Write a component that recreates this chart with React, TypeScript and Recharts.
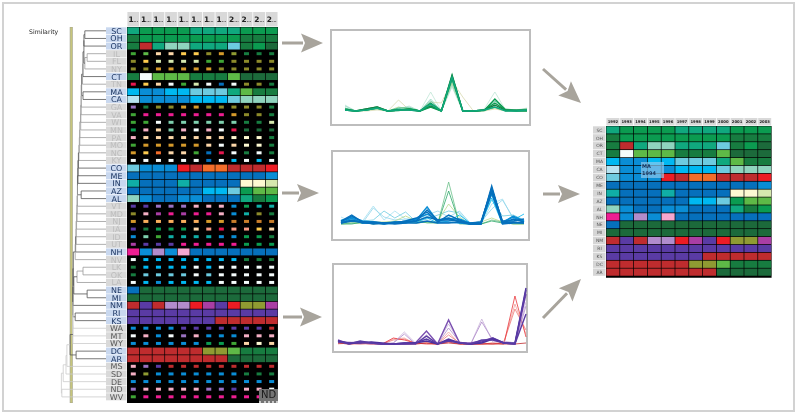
import { ScatterChart, Scatter, LineChart, Line, XAxis, YAxis, ReferenceArea } from "recharts";

// ---------- data ----------
const years = [1992, 1993, 1994, 1995, 1996, 1997, 1998, 1999, 2000, 2001, 2002, 2003];

const states = [
  "SC", "OH", "OR", "IL", "FL", "NY", "CT", "TN", "MA", "CA", "GA", "VA", "WI", "MN", "PA", "MO", "NC",
  "KY", "CO", "ME", "IN", "AZ", "AL", "VT", "MD", "NJ", "IA", "ID", "UT", "NH", "NV", "LK", "OK", "LA",
  "NE", "MI", "NM", "RI", "KS", "WA", "MT", "WY", "DC", "AR", "MS", "SD", "DE", "ND", "WV",
];

// one profile class per year, per state
const stateClasses = [
  "abbbbaaaabbb", "cbbbbbbbbccc", "craffaaaEcbd", "ieppyylgOccc", "lyXXXXiillll", "llggggglllll",
  "cweeeccceddd", "typwiXwBwllc", "DCCDDEEEaecc", "LCCCCDDDEfff", "vcllgglllllc", "iKKKKKKKgllc",
  "iiwmmmmmmccX", "bkpmkwkwtddd", "kpppppppWWWc", "igggggpwpWWc", "gyoppiBtwcwc", "wwwwwwBwDwDw",
  "ECCCRroorrrR", "BBBBBBBBBBBC", "TBBBTBBBBWWX", "BBBBBBDDEbee", "fCBBCCBBBacb", "PPvvvkkkCbTT",
  "lkMKMKKkCTlc", "gzzzzzggxxxx", "Pcbbbpstssyp", "CmiTTTTCCbbc", "MPPPKKKKKbbb", "KCQCHBBBBBBB",
  "wDDDDDDDDccc", "cDDDDwDwwwww", "cEEEEwEwwwww", "wDCDDDDwwwww", "Bddddddddddd", "dddddddddddd",
  "rPrQQRMPROOM", "PPPPPPPPPPPP", "PPPPPPPrrrrr", "CCCCPPPPPPPr", "wkCwvkCCCkkk", "CCCCCCbbipWp",
  "rrrrrrOOeccc", "rrrrrrrrdddd", "kvPrrrrrrrrr", "kOCCCCCCCccc", "CCCCCCCCCCCC", "vkkkkkvvPkkw",
  "iKKKKKKKKKKK",
];

const clusterStates = ["SC", "OH", "OR", "CT", "MA", "CA", "CO", "ME", "IN", "AZ", "AL", "NH", "NE", "MI", "NM", "RI", "KS", "DC", "AR"];
const outlierStates = ["WA", "MT", "WY", "MS", "SD", "DE", "ND", "WV"];

// dendrogram: [child, child, similarity, merged name]
const merges: [string, string, number, string][] = [
  ["SC", "OH", 54, "m1"], ["m1", "OR", 52, "m2"], ["IL", "FL", 59, "m3"], ["m3", "NY", 54, "m4"],
  ["m2", "m4", 52, "m5"], ["m5", "CT", 50, "m6"], ["m6", "TN", 49, "m7"], ["MA", "CA", 50, "m8"],
  ["m7", "m8", 47, "m9"], ["m9", "GA", 46, "m10"], ["m10", "VA", 46, "m11"], ["m11", "WI", 45, "m12"],
  ["m12", "MN", 45, "m13"], ["m13", "PA", 43, "m14"], ["m14", "MO", 43, "m15"], ["m15", "NC", 42, "m16"],
  ["m16", "KY", 41, "m17"], ["m17", "CO", 40, "m18"], ["m18", "ME", 39, "m19"], ["m19", "IN", 39, "m20"],
  ["AZ", "AL", 46, "m21"], ["m20", "m21", 38, "m22"], ["m22", "VT", 38, "m23"], ["m23", "MD", 37, "m24"],
  ["m24", "NJ", 37, "m25"], ["m25", "IA", 36, "m26"], ["m26", "ID", 35, "m27"], ["m27", "UT", 35, "m28"],
  ["m28", "NH", 34, "m29"], ["m29", "NV", 33, "m30"], ["LK", "OK", 50, "m31"], ["m31", "LA", 37, "m32"],
  ["NE", "MI", 59, "m33"], ["m32", "m33", 30, "m34"], ["m30", "m34", 29, "m35"], ["m35", "NM", 28, "m36"],
  ["RI", "KS", 33, "m37"], ["m36", "m37", 28, "m38"], ["m38", "WA", 28, "m39"], ["m39", "MT", 28, "m40"],
  ["m40", "WY", 28, "m41"], ["DC", "AR", 35, "m42"], ["m41", "m42", 22, "m43"], ["m43", "MS", 15, "m44"],
  ["m44", "SD", 13, "m45"], ["m45", "DE", 7, "m46"], ["ND", "WV", 4, "m47"], ["m46", "m47", 3, "m48"],
];

const steps = [0, 1, 2, 3, 4, 5, 6, 7, 8, 9, 10, 11, 12, 13, 14, 15, 16, 17];

const greenProfiles = [
  [6, 0, 1, 2, 0, 2, 5, 0, 19, 0, 24, 0, 0, 2, 19, 1, 1, 3],
  [1, 0, 0, 1, 0, 11, 1, 0, 9, 8, 30, 14, 0, 0, 2, 0, 0, 2],
  [5, 0, 1, 2, 0, 3, 4, 0, 12, 0, 26, 0, 0, 1, 12, 1, 1, 1],
  [1, 0, 1, 2, 0, 4, 2, 0, 7, 1, 28, 0, 0, 0.5, 3, 0, 1, 2],
  [3, 0, 1, 3, 0, 3, 3, 0, 10, 0, 30, 0, 0, 1, 10, 2, 1, 2],
  [1, 0, 1, 3, 0, 2, 1, 0, 6, 0, 32, 0, 0, 0.5, 4, 0.5, 1, 0.5],
  [2, 0, 2, 4, 0, 1, 2, 0, 8, 0, 36, 0, 0, 1, 8, 1, 0.5, 1],
  [1, 0, 2, 4, 0, 1, 1, 0, 5, 0, 35, 0, 0, 1, 6, 0.5, 0.5, 0.5],
  [1, 0, 1, 3, 0, 0.5, 2, 0, 4, 0, 33, 0, 0, 0.5, 12, 1, 0, 0],
  [1, 0, 1, 3, 0, 1, 1, 0, 7, 0, 34, 0, 0, 1, 4, 0, 0, 1],
];
const greenStrokes = ["#bfe6d6", "#d8d9b0", "#8fd4be", "#a9d68a", "#3fb98a", "#10a87e", "#0b9b50", "#177c40", "#0b9b50", "#10a87e"];

const blueProfiles = [
  [7, 2, 3, 18, 4, 13, 5, 3, 8, 4, 7, 2, 1, 0, 20, 25, 5, 3],
  [1, 3, 1, 16, 7, 4, 5, 5, 9, 13, 7, 13, 1, 2, 15, 24, 6, 2],
  [2, 1, 3, 4, 13, 6, 12, 2, 5, 9, 13, 11, 0, 3, 24, 8, 9, 4],
  [1, 1, 1, 2, 2, 3, 8, 3, 2, 3, 20, 7, 0, 2, 6, 2, 0, 0],
  [0, 1, 1, 1, 0, 2, 1, 4, 1, 1, 42, 0, 0, 0, 4, 2, 0, 0],
  [0, 0, 2, 0, 1, 1, 2, 1, 2, 1, 33, 1, 0, 0, 3, 1, 1, 1],
  [4, 5, 1, 1, 1, 1, 2, 2, 6, 1, 3, 9, 1, 0, 26, 0, 4, 10],
  [3, 7, 3, 2, 0, 1, 3, 5, 10, 3, 5, 5, 1, 1, 30, 1, 8, 3],
  [1, 6, 1, 2, 1, 2, 1, 4, 17, 2, 2, 1, 0, 1, 34, 2, 7, 2],
  [1, 4, 1, 1, 0, 2, 2, 3, 7, 4, 6, 2, 1, 2, 35, 3, 3, 5],
  [3, 9, 2, 2, 1, 1, 3, 6, 12, 2, 9, 4, 0, 0, 36, 1, 5, 2],
  [2, 8, 2, 1, 1, 1, 2, 3, 14, 4, 4, 3, 0, 0, 38, 1, 2, 1],
  [1, 3, 2, 0, 1, 0, 1, 1, 3, 1, 1, 2, 0, 0, 32, 0, 1, 1],
];
const blueStrokes = ["#a5dff0", "#8fd4ea", "#6dcbe0", "#b8d98a", "#6cc08a", "#2da86a", "#00b8f1", "#0a8dd5", "#0a8dd5", "#0670bc", "#0670bc", "#0670bc", "#0670bc"];

const purpleProfiles = [
  [0, 1, 0, 0, 0, 5, 6, 0, 1, 0, 12, 0, 0, 0, 0, 1, 40, 10],
  [1, 0, 0, 1, 0, 4, 5, 1, 1, 0, 9, 1, 0, 1, 0, 2, 35, 14],
  [1, 1, 1, 0, 0, 6, 4, 1, 0, 0, 2, 0, 0, 0, 1, 0, 48, 7],
  [1, 1, 0, 2, 0, 1, 12, 1, 7, 1, 20, 2, 0, 25, 2, 3, 1, 42],
  [2, 2, 1, 0, 0, 1, 10, 0, 9, 0, 16, 2, 0, 22, 4, 2, 0, 38],
  [1, 0, 1, 1, 0, 0, 0, 0, 1, 0, 1, 0, 0, 0, 0, 0, 0, 1],
  [4, 0, 2, 1, 0, 0, 0, 1, 13, 0, 24, 1, 1, 3, 6, 1, 0, 50],
  [3, 0, 3, 1, 0, 0, 1, 1, 5, 0, 5, 1, 0, 2, 6, 1, 0, 30],
  [3, 1, 1, 2, 1, 0, 1, 1, 3, 0, 4, 1, 0, 1, 5, 1, 1, 56],
  [2, 1, 2, 1, 0, 0, 0, 0, 8, 0, 3, 1, 0, 4, 4, 1, 0, 54],
];
const purpleStrokes = ["#f3a3a0", "#ee7a78", "#e8353a", "#c9b3d9", "#b08ccb", "#bf2c2e", "#7a4fb0", "#5a3ba4", "#4b2f9e", "#5a3ba4"];

// ---------- styling ----------
const classColors: Record<string, string> = {
  a: "#10a87e", b: "#0b9b50", c: "#177c40", d: "#1c6a3b", e: "#5eb947", f: "#8fd4be",
  r: "#bf2c2e", R: "#ec1c24", o: "#f36d2a", B: "#0670bc", C: "#0a8dd5", D: "#00b8f1",
  E: "#6dcbe0", L: "#b8e3f1", T: "#10aea6", W: "#fdf9d2", X: "#d6e8ae", P: "#5a3ba4",
  Q: "#b18ccc", M: "#a93ea4", K: "#ee1e92", H: "#f5a7cf", O: "#8f9b32", w: "#f4fbfb",
  y: "#fdcb4f", p: "#fbd6a8", g: "#d59a2b", l: "#8c8a2a", i: "#3fa535", m: "#7ed0ae",
  v: "#9a72c2", k: "#f4afc4", z: "#f9ae5c", x: "#c87d2a", s: "#f79a85", t: "#e6174f",
};

const FONT = "'DejaVu Sans', sans-serif";
const DIMMED = states.filter((s) => !clusterStates.includes(s));

function HeatMap({ rows, left, top, cellW, cellH, labelW, headH, extra, label, headLabel, small, fullHeader }: any) {
  const plotH = (rows.length + extra) * cellH;
  const plotW = years.length * cellW;
  const data = rows.flatMap((name: string, row: number) =>
    stateClasses[states.indexOf(name)].split("").map((code, col) => ({ col, row, code, name })),
  );

  const Cell = (p: any) => {
    const faded = DIMMED.includes(p.payload.name);
    const w = faded ? small[0] : cellW - 0.7;
    const h = faded ? small[1] : cellH - 0.7;
    return <rect x={p.cx - w / 2} y={p.cy - h / 2} width={w} height={h} fill={classColors[p.payload.code]} />;
  };
  const YearTick = (p: any) => {
    const year = years[p.payload.value];
    return (
      <g>
        <rect x={p.x - cellW / 2 + 0.4} y={0} width={cellW - 0.8} height={headH - 0.5} fill="#d9d9d9" />
        <text x={p.x} y={headH / 2 + headLabel * 0.36} textAnchor="middle" fontFamily={FONT} fontSize={headLabel} fontWeight="bold" fill="#222">
          {fullHeader ? year : String(year)[0]}
          {!fullHeader && <tspan fontSize={4}>...</tspan>}
        </text>
      </g>
    );
  };
  const StateTick = (p: any) => {
    const name = rows[p.payload.value];
    const dim = DIMMED.includes(name) && !outlierStates.includes(name);
    const outlier = outlierStates.includes(name);
    const bg = fullHeader ? "#d6d6d6" : outlier || dim ? "#d9d9d9" : "#c9d8ef";
    const ink = dim ? "#bcbcbc" : outlier ? "#5a5a5a" : fullHeader ? "#555" : "#1f3864";
    return (
      <g>
        <rect x={0} y={p.y - cellH / 2 + 0.3} width={labelW - 0.5} height={cellH - 0.6} fill={bg} />
        <text x={labelW / 2} y={p.y + label * 0.38} textAnchor="middle" fontFamily={FONT} fontSize={label} fill={ink}>
          {name}
        </text>
      </g>
    );
  };

  return (
    <div style={{ position: "absolute", left, top }}>
      <ScatterChart width={labelW + plotW} height={headH + plotH} margin={{ top: 0, right: 0, bottom: 0, left: 0 }}>
        <XAxis type="number" dataKey="col" orientation="top" height={headH} domain={[-0.5, 11.5]} ticks={years.map((_, i) => i)} interval={0} tick={YearTick} tickLine={false} axisLine={false} tickSize={0} tickMargin={0} />
        <YAxis type="number" dataKey="row" width={labelW} reversed domain={[-0.5, rows.length - 0.5 + extra]} ticks={rows.map((_: string, i: number) => i)} interval={0} tick={StateTick} tickLine={false} axisLine={false} tickSize={0} tickMargin={0} />
        <ReferenceArea x1={-0.5} x2={11.5} y1={-0.5} y2={rows.length - 0.5 + extra} fill="#000" fillOpacity={1} stroke="none" />
        <Scatter data={data} shape={Cell} isAnimationActive={false} />
      </ScatterChart>
    </div>
  );
}

function Dendrogram({ left, top, width, height }: any) {
  const nodes: Record<string, { y: number; sim: number }> = {};
  states.forEach((s, i) => (nodes[s] = { y: i, sim: 100 }));
  const paths = merges.map(([a, b, sim, name]) => {
    const na = nodes[a];
    const nb = nodes[b];
    nodes[name] = { y: (na.y + nb.y) / 2, sim };
    const faint = outlierStates.includes(a) || outlierStates.includes(b) || sim < 20;
    const leafDim = DIMMED.includes(a) || DIMMED.includes(b);
    return {
      key: name,
      color: faint ? "#cccccc" : leafDim ? "#9a9a9a" : "#555555",
      pts: [
        { x: na.sim, y: na.y },
        { x: sim, y: na.y },
        { x: sim, y: nb.y },
        { x: nb.sim, y: nb.y },
      ],
    };
  });
  return (
    <div style={{ position: "absolute", left, top }}>
      <ScatterChart width={width} height={height} margin={{ top: 0, right: 0, bottom: 0, left: 0 }}>
        <XAxis type="number" dataKey="x" hide domain={[0, 100]} />
        <YAxis type="number" dataKey="y" hide reversed domain={[-0.5, 48.8]} />
        <ReferenceArea x1={22} x2={27} y1={-0.5} y2={48.8} fill="#c9c87c" fillOpacity={1} stroke="#9a9a86" strokeWidth={0.6} />
        {paths.map((p) => (
          <Scatter
            key={p.key}
            data={p.pts}
            line={{ stroke: p.color, strokeWidth: 0.8 }}
            shape={() => null}
            isAnimationActive={false}
          />
        ))}
      </ScatterChart>
    </div>
  );
}

function ProfilePanel({ box, plot, profiles, strokes }: any) {
  const table = steps.map((step, i) => {
    const row: Record<string, number> = { step };
    profiles.forEach((p: number[], k: number) => (row["s" + k] = p[i]));
    return row;
  });
  const pad = 4;
  return (
    <>
      <div style={{ position: "absolute", left: box[0], top: box[1], width: box[2], height: box[3], border: "2px solid #bdbdbd", boxSizing: "border-box", background: "#fff" }} />
      <div style={{ position: "absolute", left: plot[0] - pad, top: plot[1] - 60 - pad }}>
        <LineChart width={plot[2] + 2 * pad} height={60 + 2 * pad} data={table} margin={{ top: pad, right: pad, bottom: pad, left: pad }}>
          <XAxis type="number" dataKey="step" hide domain={[0, 17]} />
          <YAxis type="number" hide domain={[0, 60]} />
          {profiles.map((_: number[], k: number) => (
            <Line key={k} dataKey={"s" + k} stroke={strokes[k]} strokeWidth={k > profiles.length / 2 ? 1.4 : 0.8} dot={false} type="linear" isAnimationActive={false} />
          ))}
        </LineChart>
      </div>
    </>
  );
}

function Arrow({ from, to, len, half, width }: any) {
  const a = Math.atan2(to[1] - from[1], to[0] - from[0]);
  const deg = (a * 180) / Math.PI;
  const dist = Math.hypot(to[0] - from[0], to[1] - from[1]);
  return (
    <g transform={`translate(${from[0]} ${from[1]}) rotate(${deg})`} fill="#a8a49c">
      <rect x={0} y={-width / 2} width={dist - len + 2} height={width} />
      <path d={`M${dist} 0L${dist - len} ${-half}L${dist - len + 4} 0L${dist - len} ${half}Z`} />
    </g>
  );
}

export default function App() {
  return (
    <div style={{ position: "absolute", left: 0, top: 0, width: 800, height: 416, background: "#fff", overflow: "hidden", filter: "blur(0.35px)" }}>
      <div style={{ position: "absolute", left: 2, top: 2, width: 793, height: 410, border: "2px solid #d2d2d2", boxSizing: "border-box" }} />
      <div style={{ position: "absolute", left: 29, top: 28, fontFamily: FONT, fontSize: 6.2, color: "#222" }}>Similarity</div>

      <Dendrogram left={60} top={27} width={46} height={376} />
      <HeatMap rows={states} left={106} top={12} cellW={12.58} cellH={7.625} labelW={21} headH={15} extra={0.3} label={8} headLabel={7.5} small={[5, 3]} />

      <ProfilePanel box={[330, 29, 201, 97]} plot={[345, 111, 182]} profiles={greenProfiles} strokes={greenStrokes} />
      <ProfilePanel box={[331, 150, 199, 91]} plot={[341, 224, 183]} profiles={blueProfiles} strokes={blueStrokes} />
      <ProfilePanel box={[332, 263, 196, 90]} plot={[338, 344, 188]} profiles={purpleProfiles} strokes={purpleStrokes} />

      <HeatMap rows={clusterStates} left={593} top={118} cellW={13.8} cellH={7.9} labelW={13} headH={8} extra={0.2} label={4.5} headLabel={3.8} small={[5, 3]} fullHeader />

      <div style={{ position: "absolute", left: 641, top: 162, width: 23, height: 16, background: "rgba(150,205,240,0.65)", fontFamily: FONT, fontSize: 5, fontWeight: "bold", color: "#12305c", lineHeight: "7px", paddingLeft: 1, boxSizing: "border-box", paddingTop: 1 }}>
        MA
        <br />
        1994
      </div>

      <div style={{ position: "absolute", left: 259, top: 389, width: 19, height: 14, background: "#737373", fontFamily: FONT, fontSize: 10, color: "#1a1a1a", textAlign: "center", lineHeight: "12px", boxSizing: "border-box", borderBottom: "2px dotted #c8c8c8" }}>
        ND
      </div>

      <svg width={800} height={416} style={{ position: "absolute", left: 0, top: 0, pointerEvents: "none" }}>
        <Arrow from={[282, 43]} to={[323, 43]} len={22} half={9.5} width={3} />
        <Arrow from={[282, 193]} to={[319, 193]} len={22} half={9} width={3} />
        <Arrow from={[283, 317]} to={[322, 317]} len={22} half={9.5} width={3} />
        <Arrow from={[543, 69]} to={[581, 103]} len={22} half={9.5} width={3} />
        <Arrow from={[543, 194]} to={[580, 194]} len={22} half={9} width={3} />
        <Arrow from={[543, 318]} to={[581, 279]} len={22} half={9.5} width={3} />
      </svg>
    </div>
  );
}
